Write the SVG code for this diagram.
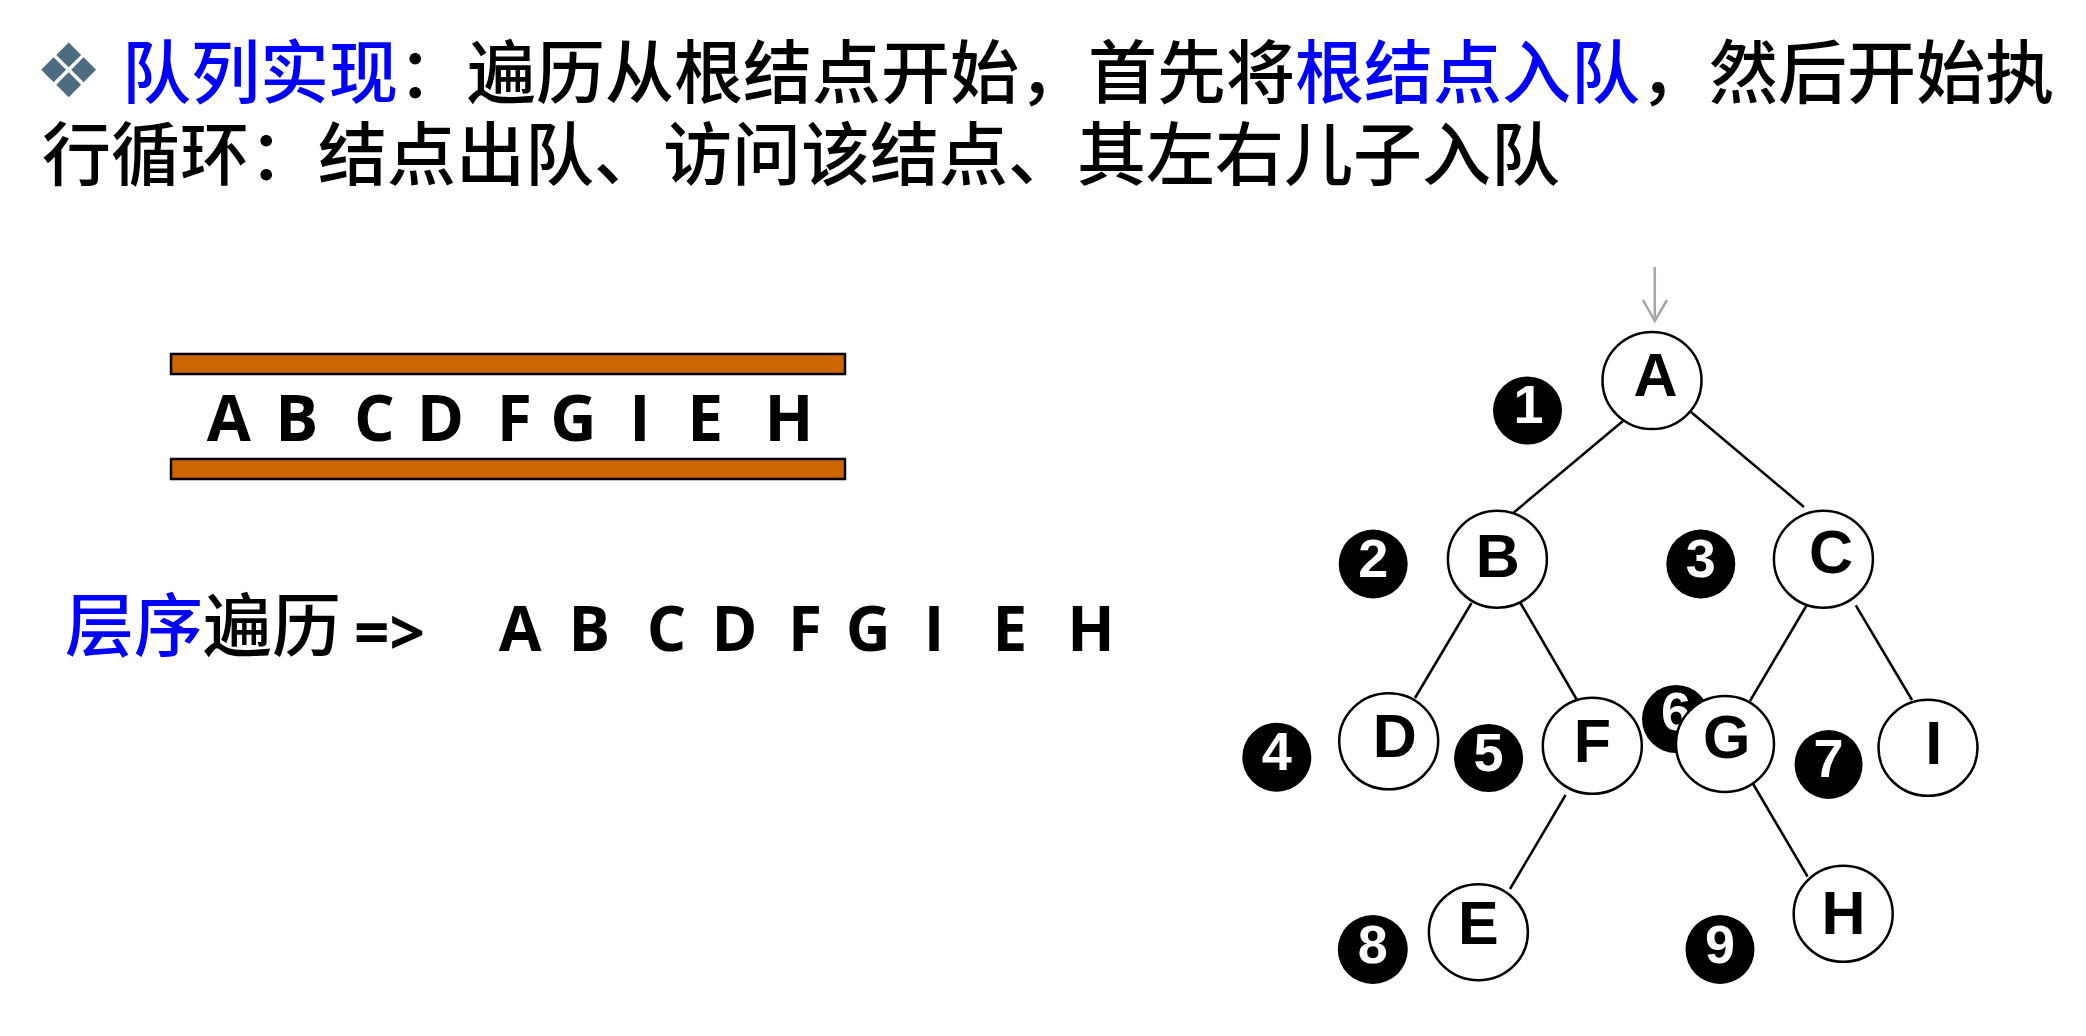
<svg xmlns="http://www.w3.org/2000/svg" width="2086" height="1036" viewBox="0 0 2086 1036">
<style>
.cjk{font-family:"Noto Sans CJK SC","Noto Sans",sans-serif;font-size:69px;font-weight:500;fill:#000}
.blue{fill:#0000FF}
.ql{font-family:"Open Sans","Liberation Sans",sans-serif;font-weight:bold;fill:#000;text-anchor:middle}
.bar{fill:#CC6600;stroke:#000;stroke-width:2.5}
.node ellipse{fill:#fff;stroke:#000;stroke-width:2.5}
.node text{font-family:"Liberation Sans",Arial,sans-serif;font-weight:bold;font-size:61px;text-anchor:middle;fill:#000}
.num ellipse{fill:#000}
.num text{font-family:"Liberation Sans",Arial,sans-serif;font-weight:bold;font-size:54px;text-anchor:middle;fill:#fff}
.edge{stroke:#000;stroke-width:2.5;fill:none}
</style>
<rect width="2086" height="1036" fill="#fff"/>
<g id="title">
<text x="35" y="97" style="font-family:'DejaVu Sans',sans-serif;font-size:75px;fill:#4E6C80">❖</text>
<text class="cjk blue" x="122" y="98">队列实现</text>
<text class="cjk" x="398" y="98">：遍历从根结点开始，首先将</text>
<text class="cjk blue" x="1295" y="98">根结点入队</text>
<text class="cjk" x="1640" y="98">，然后开始执</text>
<text class="cjk" x="42" y="180">行循环：结点出队、访问该结点、其左右儿子入队</text>
</g>
<g id="queue">
<rect class="bar" x="171" y="354" width="674" height="20"/>
<rect class="bar" x="171" y="459" width="674" height="20"/>
<g class="ql" font-size="64">
<text x="228.8" y="441">A</text><text x="296.7" y="441">B</text><text x="374.5" y="441">C</text><text x="440.4" y="441">D</text><text x="514.2" y="441">F</text><text x="573.4" y="441">G</text><text x="639.9" y="441">I</text><text x="705.1" y="441">E</text><text x="788.9" y="441">H</text>
</g>
</g>
<g id="result">
<text class="cjk blue" x="65" y="651">层序</text>
<text class="cjk" x="203" y="651">遍历</text>
<text class="ql" font-size="62" x="389.5" y="655">=&gt;</text>
<g class="ql" font-size="62">
<text x="520.2" y="651">A</text><text x="589.4" y="651">B</text><text x="666.5" y="651">C</text><text x="734.4" y="651">D</text><text x="804.9" y="651">F</text><text x="868.1" y="651">G</text><text x="934" y="651">I</text><text x="1009.8" y="651">E</text><text x="1090.9" y="651">H</text>
</g>
</g>
<g id="connectors">
<line class="edge" x1="1623" y1="421" x2="1512" y2="514"/>
<line class="edge" x1="1691" y1="412" x2="1804" y2="507"/>
<line class="edge" x1="1471.5" y1="603" x2="1415" y2="698"/>
<line class="edge" x1="1520.5" y1="603" x2="1577" y2="700"/>
<line class="edge" x1="1806.5" y1="605.5" x2="1750" y2="701"/>
<line class="edge" x1="1855.8" y1="605.3" x2="1912" y2="700"/>
<line class="edge" x1="1565.6" y1="795" x2="1510" y2="889"/>
<line class="edge" x1="1752" y1="782" x2="1807.5" y2="876.5"/>
<g stroke="#A6A6A6" stroke-width="2.5" fill="none">
<line x1="1654.8" y1="267" x2="1654.8" y2="321"/>
<polyline points="1643,300 1654.8,321 1667,300"/>
</g>
</g>
<g id="num1" class="num"><ellipse cx="1527.5" cy="410.5" rx="34.5" ry="34"/><text x="1528.5" y="423">1</text></g>
<g id="num2" class="num"><ellipse cx="1373.2" cy="564" rx="34.5" ry="34.5"/><text x="1373.2" y="577">2</text></g>
<g id="num3" class="num"><ellipse cx="1700.8" cy="564" rx="34.5" ry="34.5"/><text x="1700.8" y="577">3</text></g>
<g id="num4" class="num"><ellipse cx="1276.8" cy="757.2" rx="34.5" ry="34.5"/><text x="1276.8" y="770">4</text></g>
<g id="num5" class="num"><ellipse cx="1488.6" cy="758" rx="34.5" ry="34"/><text x="1488.6" y="771">5</text></g>
<g id="num6" class="num"><ellipse cx="1676" cy="719" rx="34" ry="34"/><text x="1676" y="730">6</text></g>
<g id="num7" class="num"><ellipse cx="1828.6" cy="764.5" rx="34" ry="34.5"/><text x="1828.6" y="777">7</text></g>
<g id="num8" class="num"><ellipse cx="1372.8" cy="949.5" rx="35" ry="34.5"/><text x="1372.8" y="963">8</text></g>
<g id="num9" class="num"><ellipse cx="1720" cy="949.5" rx="34.5" ry="34.5"/><text x="1720" y="963">9</text></g>
<g id="nodeA" class="node"><ellipse cx="1652" cy="380.5" rx="49.5" ry="48.5"/><text x="1655.6" y="396">A</text></g>
<g id="nodeB" class="node"><ellipse cx="1497.4" cy="559.2" rx="49.5" ry="48.5"/><text x="1497.8" y="577">B</text></g>
<g id="nodeC" class="node"><ellipse cx="1823.4" cy="559.2" rx="49.5" ry="48.5"/><text x="1831" y="573">C</text></g>
<g id="nodeD" class="node"><ellipse cx="1388.7" cy="741.3" rx="49.5" ry="48"/><text x="1394.8" y="756.5">D</text></g>
<g id="nodeF" class="node"><ellipse cx="1592.3" cy="745.8" rx="49.5" ry="48"/><text x="1592.3" y="761.5">F</text></g>
<g id="nodeG" class="node"><ellipse cx="1725" cy="744" rx="49" ry="48"/><text x="1726.8" y="758">G</text></g>
<g id="nodeI" class="node"><ellipse cx="1928" cy="747.8" rx="49.5" ry="48"/><text x="1933.8" y="764">I</text></g>
<g id="nodeE" class="node"><ellipse cx="1478.4" cy="932.2" rx="49.5" ry="48"/><text x="1478.4" y="944">E</text></g>
<g id="nodeH" class="node"><ellipse cx="1843.2" cy="913.8" rx="49.5" ry="48"/><text x="1843.6" y="934">H</text></g>
</svg>
